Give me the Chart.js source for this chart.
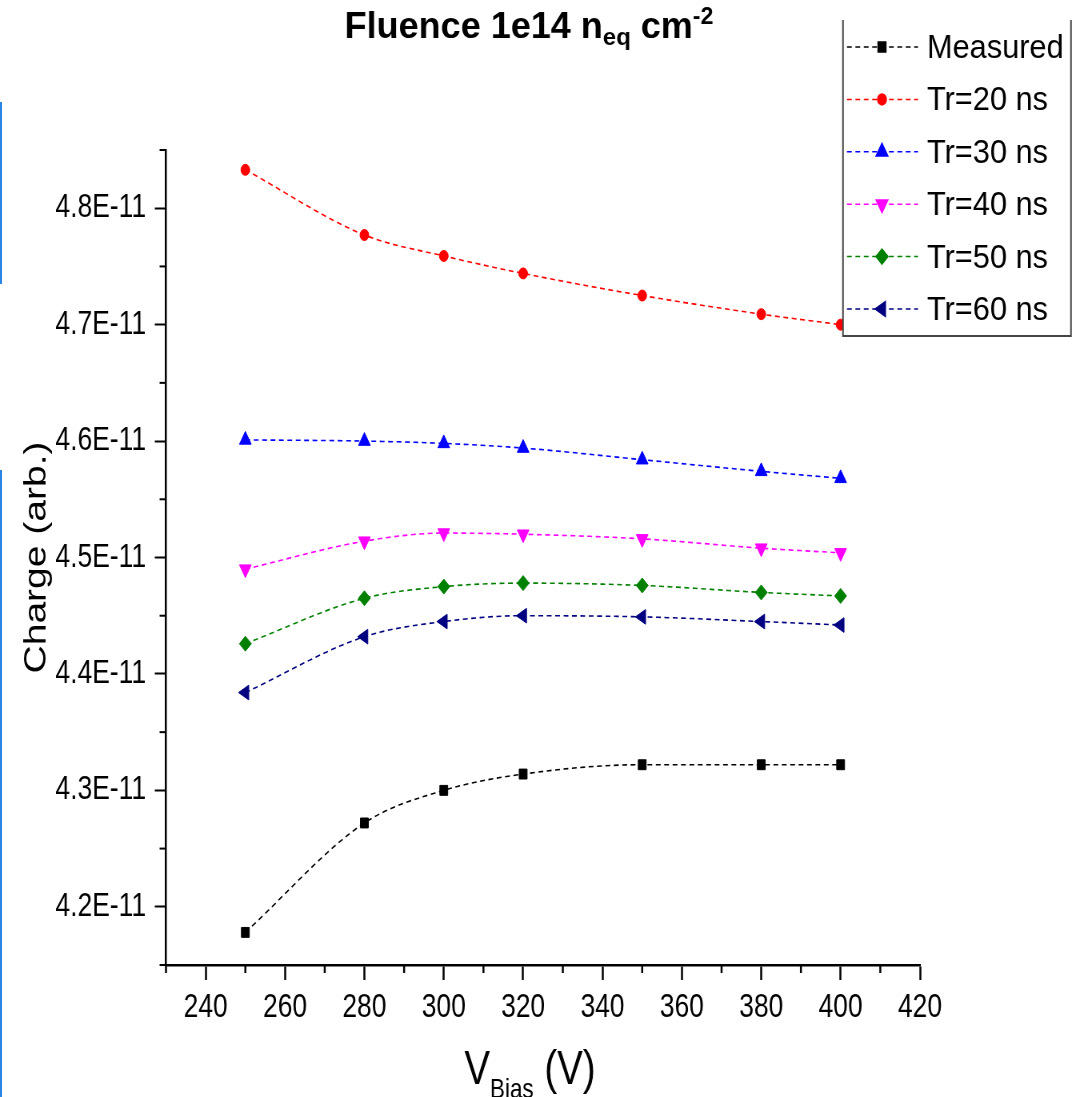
<!DOCTYPE html>
<html lang="en">
<head>
<meta charset="UTF-8">
<title>Fluence 1e14 - Charge vs bias</title>
<style>
  html, body { margin: 0; padding: 0; background: #fff; overflow: hidden; }
  /* the whole plot is drawn wide and squeezed horizontally */
  #wrap { position: absolute; left: 0; top: 0; width: 1355px; height: 1097px; transform: scaleX(0.8); transform-origin: 0 0; }
  .edge { position: absolute; left: 0; width: 2px; background: #2b86e6; }
</style>
<script src="https://cdn.jsdelivr.net/npm/chart.js"></script>
</head>
<body>
<div class="edge" style="top:102px;height:182px"></div>
<div class="edge" style="top:470px;height:627px"></div>
<div id="wrap"><canvas id="chart" width="1355" height="1097"></canvas></div>

<script>
const SX = 0.8;            // same as the scaleX on #wrap
const FONT = '"Liberation Sans", Arial, sans-serif';

// bias voltage (V)
const biasV = [250, 280, 300, 320, 350, 380, 400];

// charge, in units of 1E-11
const measured = [4.178, 4.272, 4.300, 4.314, 4.322, 4.322, 4.322];
const tr20 = [4.833, 4.777, 4.759, 4.744, 4.725, 4.709, 4.700];
const tr30 = [4.601, 4.600, 4.598, 4.594, 4.584, 4.574, 4.568];
const tr40 = [4.490, 4.514, 4.521, 4.520, 4.516, 4.508, 4.504];
const tr50 = [4.426, 4.465, 4.475, 4.478, 4.476, 4.470, 4.467];
const tr60 = [4.384, 4.432, 4.445, 4.450, 4.449, 4.445, 4.442];

const seriesNames = ['Measured', 'Tr=20 ns', 'Tr=30 ns', 'Tr=40 ns', 'Tr=50 ns', 'Tr=60 ns'];

// axis ranges
const xMin = 230, xMax = 420, xStep = 10;
const yMin = 4.15, yMax = 4.85, yStep = 0.05;

const isMajorX = v => Math.round(v) % 20 === 0;
const isMajorY = v => Math.round(v * 100) % 10 === 0;

function series(label, values, color, style, rot, r) {
  return {
    label: label,
    data: biasV.map((x, i) => ({ x: x, y: values[i] })),
    borderColor: color,
    backgroundColor: color,
    borderWidth: 1.6,
    borderDash: [6, 4.5],
    cubicInterpolationMode: 'monotone',
    fill: false,
    pointStyle: style,
    pointRotation: rot,
    pointRadius: r,
    pointHoverRadius: r,
    pointBorderWidth: 1,
    pointBackgroundColor: color,
    pointBorderColor: color
  };
}

const datasets = [
  series(seriesNames[0], measured, '#000000', 'rect', 0, 7),
  series(seriesNames[1], tr20, '#ff0000', 'circle', 0, 5.5),
  series(seriesNames[2], tr30, '#0000ff', 'triangle', 0, 8.5),
  series(seriesNames[3], tr40, '#ff00ff', 'triangle', 180, 8.5),
  series(seriesNames[4], tr50, '#008000', 'rectRot', 0, 7.5),
  series(seriesNames[5], tr60, '#000080', 'triangle', 270, 8.5)
];

// short outer ticks between the labelled ones
const minorTicks = {
  id: 'minorTicks',
  afterDraw(chart) {
    const { ctx, chartArea, scales } = chart;
    ctx.save();
    ctx.strokeStyle = '#000';
    ctx.lineWidth = 2.5;
    scales.x.ticks.forEach(t => {
      if (isMajorX(t.value)) return;
      const px = scales.x.getPixelForValue(t.value);
      ctx.beginPath();
      ctx.moveTo(px, chartArea.bottom);
      ctx.lineTo(px, chartArea.bottom + 8);
      ctx.stroke();
    });
    ctx.lineWidth = 2;
    scales.y.ticks.forEach(t => {
      if (isMajorY(t.value)) return;
      const py = scales.y.getPixelForValue(t.value);
      ctx.beginPath();
      ctx.moveTo(chartArea.left, py);
      ctx.lineTo(chartArea.left - 8, py);
      ctx.stroke();
    });
    ctx.restore();
  }
};

// draws text runs (normal / sub / sup) left to right, returns the width
function drawRuns(ctx, runs, x, y, measureOnly) {
  let cx = x;
  runs.forEach(r => {
    ctx.font = r.font;
    if (!measureOnly) ctx.fillText(r.text, cx, y + (r.dy || 0));
    cx += ctx.measureText(r.text).width;
  });
  return cx - x;
}

// title at the top and the x axis title with subscript
const headings = {
  id: 'headings',
  afterDraw(chart) {
    const ctx = chart.ctx;
    ctx.save();
    ctx.fillStyle = '#000';
    ctx.textBaseline = 'alphabetic';

    const title = [
      { text: 'Fluence 1e14 n', font: 'bold 36px ' + FONT },
      { text: 'eq', font: 'bold 24px ' + FONT, dy: 7 },
      { text: ' cm', font: 'bold 36px ' + FONT },
      { text: '-2', font: 'bold 23px ' + FONT, dy: -14 }
    ];
    const tw = drawRuns(ctx, title, 0, 0, true);
    ctx.save();
    ctx.translate(529 / SX, 38);
    ctx.scale(1 / SX, 1);
    drawRuns(ctx, title, -tw / 2, 0, false);
    ctx.restore();

    const xt = [
      { text: 'V', font: '48px ' + FONT },
      { text: 'Bias', font: '28px ' + FONT, dy: 14 },
      { text: ' (V)', font: '48px ' + FONT }
    ];
    const xw = drawRuns(ctx, xt, 0, 0, true);
    drawRuns(ctx, xt, 530 / SX - xw / 2, 1084, false);
    ctx.restore();
  }
};

// boxed legend in the upper right corner, on top of the plot
const boxLegend = {
  id: 'boxLegend',
  afterDraw(chart) {
    const ctx = chart.ctx;
    const left = 843 / SX, right = 1071 / SX, top = 20, bottom = 336;
    ctx.save();
    ctx.fillStyle = '#fff';
    ctx.fillRect(left, top, right - left, bottom - top);
    ctx.strokeStyle = '#444';
    ctx.lineWidth = 2;
    ctx.beginPath();
    ctx.moveTo(left, top);
    ctx.lineTo(left, bottom);
    ctx.lineTo(right, bottom);
    ctx.lineTo(right, top);
    ctx.stroke();

    const rowY0 = 47, rowGap = 52.4;
    chart.data.datasets.forEach((ds, i) => {
      const y = rowY0 + i * rowGap;
      ctx.strokeStyle = ds.borderColor;
      ctx.lineWidth = 1.5;
      ctx.setLineDash([6, 4.5]);
      ctx.beginPath();
      ctx.moveTo(847 / SX, y);
      ctx.lineTo(918 / SX, y);
      ctx.stroke();
      ctx.setLineDash([]);
      ctx.fillStyle = ds.pointBackgroundColor;
      ctx.strokeStyle = ds.pointBorderColor;
      Chart.helpers.drawPoint(ctx, {
        pointStyle: ds.pointStyle,
        rotation: ds.pointRotation,
        radius: ds.pointRadius,
        borderWidth: 1
      }, 882 / SX, y);

      ctx.fillStyle = '#000';
      ctx.font = '34px ' + FONT;
      ctx.textBaseline = 'alphabetic';
      ctx.save();
      ctx.translate(927 / SX, y + 11);
      ctx.scale(1.13, 1);
      ctx.fillText(ds.label, 0, 0);
      ctx.restore();
    });
    ctx.restore();
  }
};

Chart.defaults.font.family = FONT;
Chart.defaults.color = '#000';

new Chart(document.getElementById('chart'), {
  type: 'line',
  data: { datasets: datasets },
  options: {
    responsive: false,
    devicePixelRatio: 1,
    animation: false,
    events: [],
    layout: { padding: { left: 0, right: 205, top: 150, bottom: 0 } },
    plugins: {
      legend: { display: false },
      tooltip: { enabled: false },
      title: { display: false }
    },
    scales: {
      x: {
        type: 'linear',
        min: xMin,
        max: xMax,
        afterFit: s => { s.height = 132; },
        border: { display: true, color: '#000', width: 2.5 },
        grid: {
          drawOnChartArea: false,
          drawTicks: true,
          tickLength: 15,
          tickWidth: 2.5,
          tickColor: c => isMajorX(c.tick.value) ? '#000' : 'rgba(0,0,0,0)'
        },
        ticks: {
          stepSize: xStep,
          autoSkip: false,
          maxRotation: 0,
          padding: 8,
          font: { size: 33 },
          callback: v => isMajorX(v) ? String(v) : ''
        }
      },
      y: {
        type: 'linear',
        min: yMin,
        max: yMax,
        afterFit: s => { s.width = 207.5; },
        border: { display: true, color: '#000', width: 2.5 },
        grid: {
          drawOnChartArea: false,
          drawTicks: true,
          tickLength: 14,
          tickWidth: 2,
          tickColor: c => isMajorY(c.tick.value) ? '#000' : 'rgba(0,0,0,0)'
        },
        ticks: {
          stepSize: yStep,
          autoSkip: false,
          maxTicksLimit: 100,
          padding: 11,
          font: { size: 33 },
          callback: v => isMajorY(v) ? v.toFixed(1) + 'E-11' : ''
        },
        title: {
          display: true,
          text: 'Charge (arb.)',
          font: { size: 39 },
          padding: { top: 23, bottom: 0 }
        }
      }
    }
  },
  plugins: [minorTicks, headings, boxLegend]
});
</script>
</body>
</html>
